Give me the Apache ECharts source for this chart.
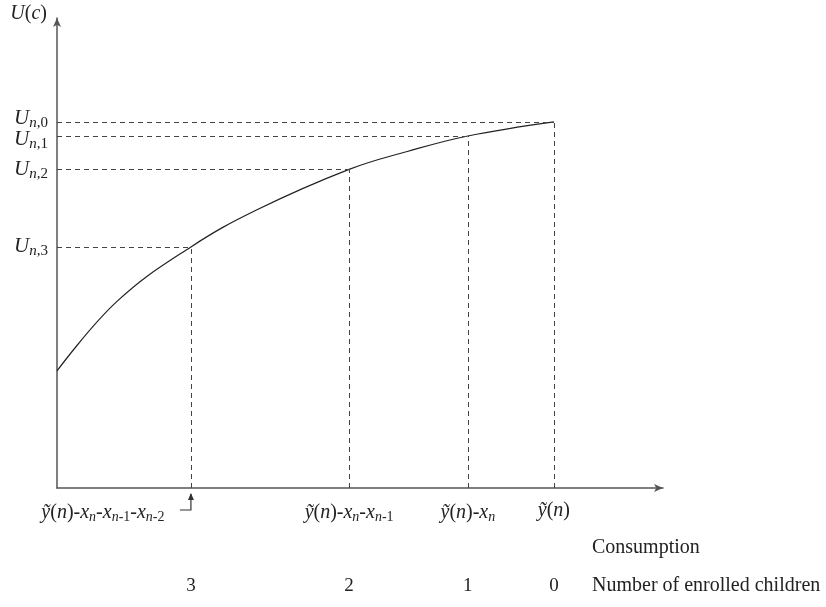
<!DOCTYPE html>
<html><head><meta charset="utf-8">
<script src="https://cdn.jsdelivr.net/npm/echarts@6/dist/echarts.min.js"></script>
<style>html,body{margin:0;padding:0;background:#fff}#c{width:826px;height:607px}</style>
</head><body><div id="c"></div>
<script>
// Curve U(c): consumption (x) vs utility (y)
const curveX = [0, 9.9, 22.1, 33.0, 48.2, 57.8, 67.8, 82.0];
const curveY = [24.9, 39.7, 51.3, 59.2, 67.8, 71.6, 74.9, 77.9];
// Marked consumption levels (3,2,1,0 enrolled children)
const markX = [22.1, 48.2, 67.8, 82.0];
const markU = [51.3, 67.8, 74.9, 77.9];
const childCounts = ['3', '2', '1', '0'];
const uLabels = ['3', '2', '1', '0']; // U_{n,k}
const xLabelParts = [
  [['i','ỹ'],['r','('],['i','n'],['r',')-'],['i','x'],['si','n'],['r','-'],['i','x'],['si','n'],['sr','-1'],['r','-'],['i','x'],['si','n'],['sr','-2']],
  [['i','ỹ'],['r','('],['i','n'],['r',')-'],['i','x'],['si','n'],['r','-'],['i','x'],['si','n'],['sr','-1']],
  [['i','ỹ'],['r','('],['i','n'],['r',')-'],['i','x'],['si','n']],
  [['i','ỹ'],['r','('],['i','n'],['r',')']]
];
const xTitle = 'Consumption';
const childTitle = 'Number of enrolled children';

const FONT = '"Liberation Serif","Times New Roman",serif';
const C = '#222';
const chart = echarts.init(document.getElementById('c'));
const dash = {color:'#444', width:1, type:[5,4]};
const mlData = [];
markX.forEach((x,i)=>{
  mlData.push([{coord:[0, markU[i]]},{coord:[x, markU[i]]}]);
  mlData.push([{coord:[x, 0]},{coord:[x, markU[i]]}]);
});
const richX = {
  i:{fontFamily:FONT, fontStyle:'italic', fontSize:20, color:C},
  r:{fontFamily:FONT, fontSize:20, color:C},
  si:{fontFamily:FONT, fontStyle:'italic', fontSize:14, color:C, padding:[9,0,0,0]},
  sr:{fontFamily:FONT, fontSize:14, color:C, padding:[9,0,0,0]},
  pad:{width:176}
};
const richY = {
  i:{fontFamily:FONT, fontStyle:'italic', fontSize:21, color:C},
  si:{fontFamily:FONT, fontStyle:'italic', fontSize:15, color:C, padding:[9,0,0,0]},
  sr:{fontFamily:FONT, fontSize:15, color:C, padding:[9,0,0,0]},
  iu:{fontFamily:FONT, fontStyle:'italic', fontSize:21, color:C, padding:[0,0,7,0]},
  siu:{fontFamily:FONT, fontStyle:'italic', fontSize:15, color:C, padding:[2,0,0,0]},
  sru:{fontFamily:FONT, fontSize:15, color:C, padding:[2,0,0,0]},
  id:{fontFamily:FONT, fontStyle:'italic', fontSize:21, color:C, padding:[8,0,0,0]},
  sid:{fontFamily:FONT, fontStyle:'italic', fontSize:15, color:C, padding:[17,0,0,0]},
  srd:{fontFamily:FONT, fontSize:15, color:C, padding:[17,0,0,0]}
};
const richName = {
  i:{fontFamily:FONT, fontStyle:'italic', fontSize:20, color:C},
  r:{fontFamily:FONT, fontSize:20, color:C}
};
function fmtX(v){
  const idx = markX.findIndex(x=>Math.abs(x-v)<1e-6);
  if(idx<0) return '';
  let s = xLabelParts[idx].map(p=>'{'+p[0]+'|'+p[1]+'}').join('');
  if(idx===0) s += '{pad| }';
  return s;
}
function fmtY(v){
  const idx = markU.findIndex(u=>Math.abs(u-v)<1e-6);
  if(idx<0) return '';
  const sfx = idx===3 ? 'u' : (idx===2 ? 'd' : '');
  return '{i'+sfx+'|U}{si'+sfx+'|n}{sr'+sfx+'|,'+uLabels[idx]+'}';
}
const yLabelBase = {formatter:fmtY, rich:richY, margin:9, hideOverlap:false, showMinLabel:true, showMaxLabel:true};
chart.setOption({
  animation:false,
  backgroundColor:'#fff',
  grid:{left:57, right:163, top:18, bottom:119},
  xAxis:[{
    type:'value', min:0, max:100,
    axisLine:{show:true, lineStyle:{color:'#555', width:1.5}, symbol:['none','arrow'], symbolSize:[6,9]},
    axisTick:{show:false}, splitLine:{show:false},
    axisLabel:{customValues:markX, formatter:fmtX, rich:richX, margin:13, hideOverlap:false, showMinLabel:true, showMaxLabel:true}
  },{
    type:'value', min:0, max:100, position:'bottom', offset:89,
    axisLine:{show:false}, axisTick:{show:false}, splitLine:{show:false},
    axisLabel:{customValues:markX, formatter:v=>{const i=markX.findIndex(x=>Math.abs(x-v)<1e-6);return i<0?'':childCounts[i];},
      fontFamily:FONT, fontSize:19, color:C, margin:0, hideOverlap:false, showMinLabel:true, showMaxLabel:true}
  }],
  yAxis:[{
    type:'value', min:0, max:100,
    name:'{i|U}{r|(}{i|c}{r|)}', nameLocation:'end', nameGap:0,
    nameTextStyle:{rich:richName, align:'right', verticalAlign:'middle', padding:[0,10,8,0]},
    axisLine:{show:true, lineStyle:{color:'#555', width:1.5}, symbol:['none','arrow'], symbolSize:[6,9]},
    axisTick:{show:false}, splitLine:{show:false},
    axisLabel:Object.assign({customValues:markU.slice(0,3)}, yLabelBase)
  },{
    type:'value', min:0, max:100, position:'left', offset:0,
    axisLine:{show:false}, axisTick:{show:false}, splitLine:{show:false},
    axisLabel:Object.assign({customValues:markU.slice(3)}, yLabelBase)
  }],
  series:[{
    type:'line', smooth:0.4, symbol:'none',
    data:curveX.map((x,i)=>[x,curveY[i]]),
    lineStyle:{color:'#222', width:1.2},
    markLine:{silent:true, symbol:'none', label:{show:false}, lineStyle:dash, data:mlData}
  }]
});
const p3 = chart.convertToPixel({xAxisIndex:0, yAxisIndex:0}, [markX[0], 0]);
chart.setOption({
  graphic:[
    {type:'polyline', shape:{points:[[p3[0]-11, p3[1]+22],[p3[0], p3[1]+22],[p3[0], p3[1]+6]]}, style:{stroke:'#333', lineWidth:1.2, fill:null}},
    {type:'polygon', shape:{points:[[p3[0], p3[1]+5],[p3[0]-3, p3[1]+12],[p3[0]+3, p3[1]+12]]}, style:{fill:'#333'}},
    {type:'text', left:592, top:538, style:{text:xTitle, font:'20px '+FONT, fill:C}},
    {type:'text', left:592, top:576, style:{text:childTitle, font:'20px '+FONT, fill:C}}
  ]
});
</script></body></html>
